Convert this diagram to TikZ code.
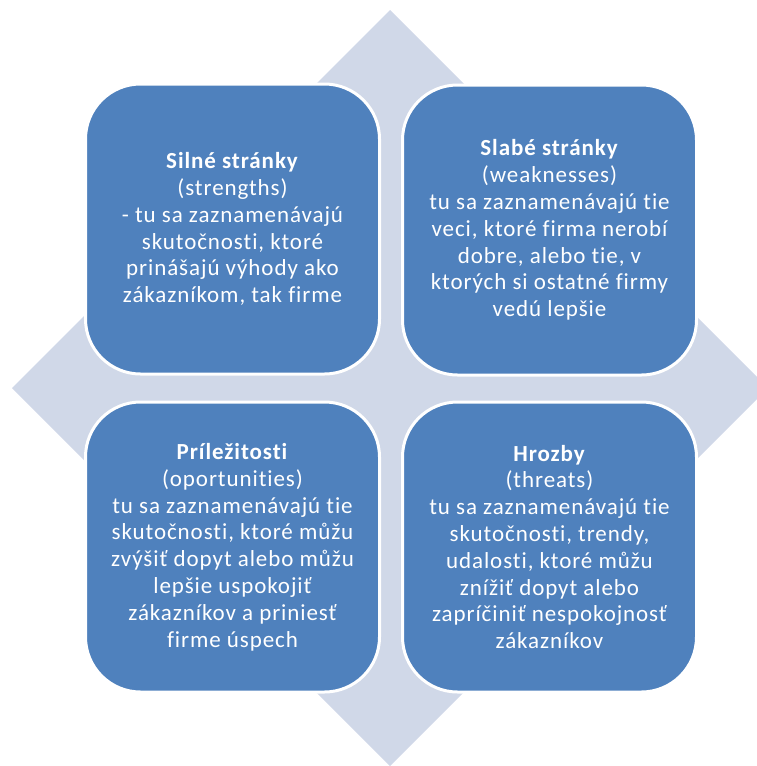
\documentclass[tikz,border=0pt]{standalone}
\usepackage{fontspec}
\setmainfont{Carlito}[Ligatures=NoCommon, LetterSpace=4]
\definecolor{diam}{RGB}{208,216,232}
\definecolor{boxblue}{RGB}{79,129,189}
\begin{document}
\begin{tikzpicture}[x=1pt,y=-1pt,
  swot/.style={draw=white, line width=3pt, fill=boxblue, rounded corners=55pt,
    minimum width=294pt, minimum height=290pt, text=white, align=center,
    font=\fontsize{23}{26.8}\selectfont, inner sep=0pt}]
\useasboundingbox (0,0) rectangle (757,766);
\clip (0,0) rectangle (757,766);
\fill[diam] (390,10) -- (768,388) -- (390,766) -- (12,388) -- cycle;
\node[swot] (s) at (232.5,229) {\textbf{Silné stránky}\\(strengths)\\- tu sa zaznamenávajú\\skutočnosti, ktoré\\prinášajú výhody ako\\zákazníkom, tak firme};
\node[swot] (w) at (549.5,230) {\textbf{Slabé stránky}\\(weaknesses)\\tu sa zaznamenávajú tie\\veci, ktoré firma nerobí\\dobre, alebo tie, v\\ktorých si ostatné firmy\\vedú lepšie};
\node[swot] (o) at (232.5,547) {\textbf{Príležitosti}\\(oportunities)\\tu sa zaznamenávajú tie\\skutočnosti, ktoré můžu\\zvýšiť dopyt alebo můžu\\lepšie uspokojiť\\zákazníkov a priniesť\\firme úspech};
\node[swot] (t) at (549.5,547) {\textbf{Hrozby}\\(threats)\\tu sa zaznamenávajú tie\\skutočnosti, trendy,\\udalosti, ktoré můžu\\znížiť dopyt alebo\\zapríčiniť nespokojnosť\\zákazníkov};
\end{tikzpicture}
\end{document}
